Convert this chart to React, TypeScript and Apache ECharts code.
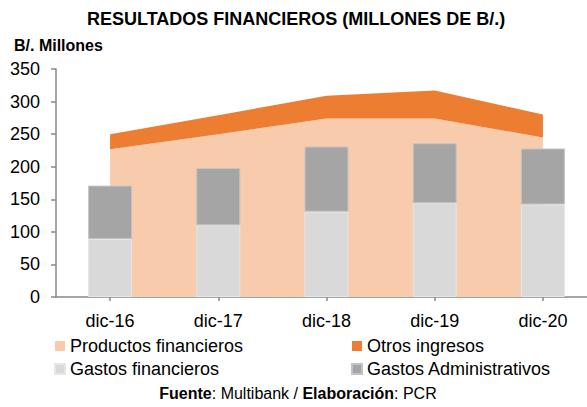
import React, { useEffect, useRef } from "react";
import * as echarts from "echarts";

const categories = ["dic-16", "dic-17", "dic-18", "dic-19", "dic-20"];
const productosFinancieros = [227, 250, 274, 274, 245];
const otrosIngresos = [23, 29, 35, 43, 35];
const gastosFinancieros = [89, 110, 131, 144, 142];
const gastosAdministrativos = [82, 88, 100, 92, 86];

const FONT = "'Liberation Sans', Arial, sans-serif";

export default function App() {
  const ref = useRef<HTMLDivElement>(null);
  useEffect(() => {
    if (!ref.current) return;
    const chart = echarts.init(ref.current, null, { renderer: "svg" });
    chart.setOption({
      animation: false,
      backgroundColor: "#ffffff",
      textStyle: { fontFamily: FONT },
      title: [
        {
          text: "RESULTADOS FINANCIEROS (MILLONES DE B/.)",
          left: 87,
          top: 10,
          padding: 0,
          textStyle: { fontSize: 18, fontWeight: "bold", color: "#000", fontFamily: FONT },
        },
        {
          text: "B/. Millones",
          left: 14,
          top: 37,
          padding: 0,
          textStyle: { fontSize: 16, fontWeight: "bold", color: "#000", fontFamily: FONT },
        },
      ],
      grid: { left: 56, top: 69, width: 541, height: 228, containLabel: false },
      xAxis: {
        type: "category",
        data: categories,
        boundaryGap: true,
        axisLine: { show: true, lineStyle: { color: "#898989", width: 1.5 } },
        axisTick: { show: true, alignWithLabel: true, length: 4, lineStyle: { color: "#898989", width: 1.5 } },
        axisLabel: { fontSize: 18, color: "#000", margin: 15, fontFamily: FONT },
        splitLine: { show: false },
      },
      yAxis: {
        type: "value",
        min: 0,
        max: 350,
        interval: 50,
        axisLine: { show: true, lineStyle: { color: "#898989", width: 1.5 } },
        axisTick: { show: true, length: 5, lineStyle: { color: "#898989", width: 1.5 } },
        axisLabel: { fontSize: 18, color: "#000", margin: 16, fontFamily: FONT },
        splitLine: { show: false },
      },
      legend: [
        {
          data: ["Productos financieros", "Gastos financieros"],
          orient: "vertical",
          left: 54,
          top: 337,
          padding: 0,
          itemWidth: 10,
          itemHeight: 10,
          itemGap: 5,
          icon: "rect",
          textStyle: { fontSize: 18, color: "#000", fontFamily: FONT },
        },
        {
          data: ["Otros ingresos", "Gastos Administrativos"],
          orient: "vertical",
          left: 351,
          top: 337,
          padding: 0,
          itemWidth: 10,
          itemHeight: 10,
          itemGap: 5,
          icon: "rect",
          textStyle: { fontSize: 18, color: "#000", fontFamily: FONT },
        },
      ],
      graphic: [
        {
          type: "text",
          x: 298,
          y: 393,
          style: {
            text: "{b|Fuente}: Multibank / {b|Elaboración}: PCR",
            fontSize: 16,
            fontFamily: FONT,
            fill: "#000",
            align: "center",
            verticalAlign: "middle",
            rich: {
              b: { fontSize: 16, fontWeight: "bold", fontFamily: FONT, fill: "#000" },
            },
          },
        },
      ],
      series: [
        {
          name: "Productos financieros",
          type: "line",
          stack: "ing",
          data: productosFinancieros,
          symbol: "none",
          lineStyle: { width: 0 },
          itemStyle: { color: "#F8CBAD" },
          areaStyle: { color: "#F8CBAD", opacity: 1 },
          z: 1,
        },
        {
          name: "Otros ingresos",
          type: "line",
          stack: "ing",
          data: otrosIngresos,
          symbol: "none",
          lineStyle: { width: 0 },
          itemStyle: { color: "#ED7D31" },
          areaStyle: { color: "#ED7D31", opacity: 1 },
          z: 1,
        },
        {
          name: "Gastos financieros",
          type: "bar",
          stack: "gas",
          data: gastosFinancieros,
          barWidth: 44,
          itemStyle: { color: "#D9D9D9", borderColor: "#e6e6e6", borderWidth: 1 },
          z: 3,
        },
        {
          name: "Gastos Administrativos",
          type: "bar",
          stack: "gas",
          data: gastosAdministrativos,
          barWidth: 44,
          itemStyle: { color: "#A5A5A5", borderColor: "#c4c4c4", borderWidth: 1 },
          z: 3,
        },
      ],
    });
    return () => chart.dispose();
  }, []);
  return (
    <div
      ref={ref}
      style={{ position: "fixed", left: 0, top: 0, width: 600, height: 407 }}
    />
  );
}
